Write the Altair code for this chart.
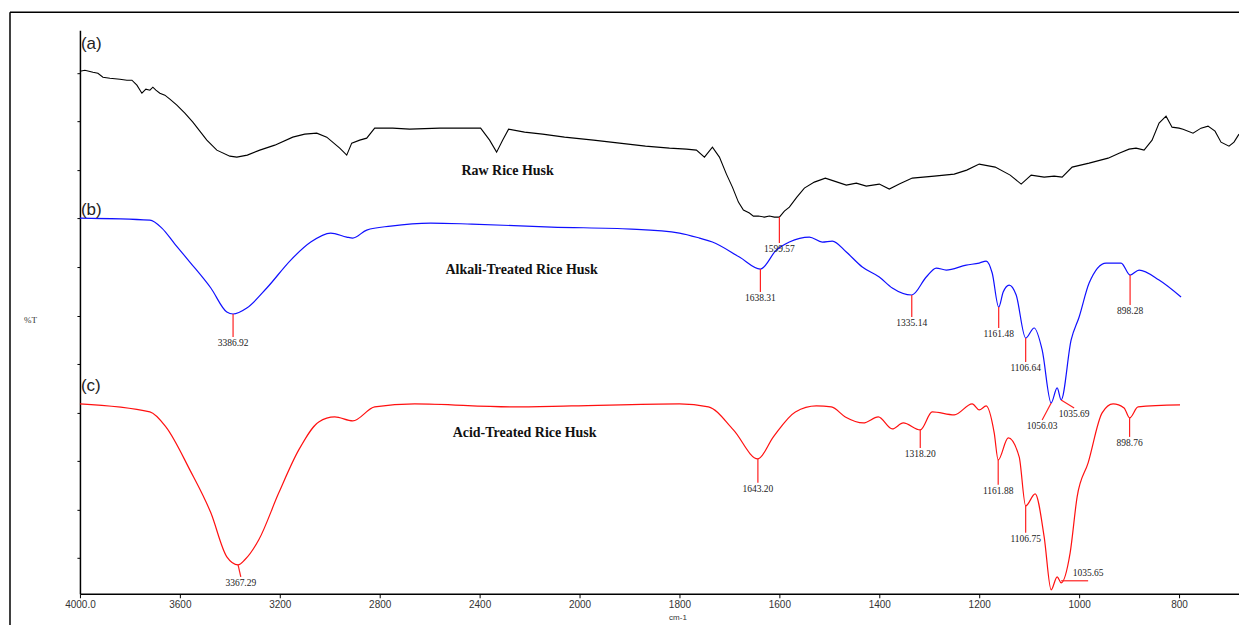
import altair as alt
import pandas as pd

# ---- (a) Raw rice husk: wavenumber (cm-1) and %T (arbitrary offset units)
raw_wn = [4000, 3980, 3948, 3928, 3908, 3880, 3840, 3812, 3792, 3772, 3752, 3736, 3720,
          3708, 3696, 3680, 3660, 3640, 3612, 3580, 3548, 3520, 3492, 3452, 3400, 3372,
          3330, 3280, 3220, 3148, 3100, 3052, 3012, 2960, 2932, 2912, 2880, 2852, 2820,
          2748, 2680, 2560, 2436, 2396, 2360, 2332, 2308, 2284, 2220, 2148, 2060, 1972,
          1920, 1868, 1820, 1786, 1766, 1750, 1734, 1720, 1706, 1694, 1682, 1672, 1660,
          1652, 1642, 1630, 1620, 1610, 1600, 1590, 1580, 1565, 1550, 1530, 1508, 1490,
          1466, 1446, 1426, 1400, 1380, 1360, 1334, 1290, 1250, 1225, 1200, 1168, 1138,
          1116, 1096, 1070, 1050, 1034, 1014, 980, 942, 920, 900, 886, 870, 854, 840,
          826, 814, 800, 792, 772, 756, 742, 728, 716, 700, 690, 680]
raw_t = [523, 524, 522, 521, 517, 516, 515, 514, 514, 509, 501, 505, 504,
         507, 504, 501, 499, 495, 489, 481, 472, 463, 454, 444, 438, 437,
         439, 444, 449, 457, 460, 461, 457, 446, 439, 451, 454, 456, 466,
         466, 465, 466, 466, 466, 454, 442, 454, 465, 462, 460, 457, 454,
         451, 448, 446, 445, 444, 437, 447, 437, 420, 407, 392, 384, 381,
         378, 378, 377, 378, 377, 377, 383, 387, 397, 406, 412, 416, 413,
         409, 411, 408, 410, 405, 410, 416, 418, 420, 424, 430, 427, 419,
         410, 419, 417, 418, 417, 427, 431, 436, 441, 445, 446, 444, 454, 471,
         478, 467, 466, 465, 461, 466, 468, 463, 452, 448, 452, 460]

# ---- (b) Alkali-treated rice husk
alk_wn = [4000, 3720, 3672, 3620, 3560, 3476, 3412, 3387, 3332, 3252, 3156, 3076, 2996,
          2932, 2908, 2852, 2756, 2596, 2432, 2112, 1896, 1800, 1760, 1734, 1680, 1638,
          1606, 1580, 1540, 1514, 1494, 1466, 1434, 1400, 1374, 1335, 1306, 1286, 1266,
          1226, 1200, 1186, 1174, 1161, 1152, 1140, 1126, 1107, 1090, 1074, 1056, 1044,
          1036, 1016, 1000, 980, 946, 916, 898, 880, 840, 796]
alk_t = [376, 374, 366, 350, 332, 306, 282, 280, 286, 306, 334, 352, 361,
         357, 356, 364, 368, 371, 370, 367, 365, 361, 356, 352, 337, 325,
         344, 352, 357, 352, 353, 342, 327, 317, 306, 299, 317, 326, 324,
         329, 331, 333, 321, 287, 302, 309, 299, 256, 266, 244, 191, 206,
         194, 254, 277, 311, 331, 331, 319, 324, 314, 297]

# ---- (c) Acid-treated rice husk
acid_wn = [4000, 3720, 3656, 3560, 3476, 3412, 3367, 3340, 3284, 3204, 3124, 3044, 2980,
           2908, 2820, 2660, 2272, 2032, 1800, 1742, 1692, 1643, 1612, 1568, 1526, 1496,
           1468, 1432, 1402, 1374, 1352, 1318, 1294, 1250, 1214, 1200, 1186, 1170, 1162,
           1142, 1120, 1107, 1088, 1070, 1056, 1044, 1036, 1018, 1004, 982, 954, 932,
           910, 899, 882, 798]
acid_t = [190, 182, 167, 124, 81, 37, 29, 34, 54, 101, 144, 172, 177,
          173, 187, 190, 187, 188, 190, 187, 164, 135, 157, 182, 188, 187,
          177, 171, 177, 165, 171, 164, 182, 179, 190, 184, 188, 161, 134,
          156, 137, 88, 100, 57, 4, 17, 11, 41, 97, 131, 181, 190,
          186, 176, 187, 189]

series_names = ["raw", "alkali", "acid"]
series_colors = ["#000000", "#1010ff", "#ff1010"]

# ---- peak annotations (leader line from curve to label)
pk_label = ["1599.57", "3386.92", "1638.31", "1335.14", "1161.48", "1106.64", "898.28",
            "1056.03", "1035.69", "3367.29", "1643.20", "1318.20", "1161.88", "1106.75",
            "898.76", "1035.65"]
pk_wn1 = [1600, 3387, 1638, 1335, 1161, 1107, 898, 1056, 1036, 3367, 1643, 1318, 1162,
          1107, 899, 1036]
pk_t1 = [377, 280, 325, 299, 287, 256, 319, 191, 194, 29, 135, 164, 134, 88, 176, 13]
pk_wn2 = [1600, 3387, 1638, 1335, 1161, 1107, 898, 1074, 1010, 3356, 1643, 1318, 1162,
          1107, 899, 982]
pk_t2 = [351, 257, 302, 277, 266, 232, 289, 174, 186, 17, 111, 146, 109, 61, 157, 13]
pk_side = ["below"] * 15 + ["above"]

# ---- curve captions
cap_text = ["(a)", "(b)", "(c)"]
cap_wn = [3996, 3996, 3996]
cap_t = [550, 384, 208]
name_text = ["Raw Rice Husk", "Alkali-Treated Rice Husk", "Acid-Treated Rice Husk"]
name_wn = [2288, 2232, 2220]
name_t = [423, 324, 161]

x_ticks = [4000, 3600, 3200, 2800, 2400, 2000, 1800, 1600, 1400, 1200, 1000, 800]
y_ticks = [521, 473, 424, 376, 327, 278, 230, 181, 133, 84, 36]

# ---- tables
rows = []
for name, wn, t in [("raw", raw_wn, raw_t), ("alkali", alk_wn, alk_t), ("acid", acid_wn, acid_t)]:
    for i, (w, v) in enumerate(zip(wn, t)):
        rows.append({"series": name, "wn": w, "t": v, "i": i})
curves = pd.DataFrame(rows)
peaks = pd.DataFrame({"label": pk_label, "wn1": pk_wn1, "t1": pk_t1,
                      "wn2": pk_wn2, "t2": pk_t2, "side": pk_side})
caps = pd.DataFrame({"text": cap_text, "wn": cap_wn, "t": cap_t})
names = pd.DataFrame({"text": name_text, "wn": name_wn, "t": name_t})
one = pd.DataFrame({"a": [0]})

W, H = 1160, 564
xscale = alt.Scale(domain=[4000, 2000, 680], range=[0, 500, W], nice=False, zero=False)
yscale = alt.Scale(domain=[0, H], nice=False, zero=False)

xaxis = alt.Axis(values=x_ticks, format="d",
                 labelExpr="datum.value == 4000 ? '4000.0' : datum.label",
                 title="cm-1", titleX=598, titleY=24, titleAlign="center",
                 titleBaseline="middle", titleFont="Liberation Sans", titleFontSize=8,
                 titleFontWeight="normal", titleColor="#333",
                 labelFont="Liberation Sans", labelFontSize=10, labelColor="#333",
                 labelPadding=2, tickSize=4, tickColor="#000", domainColor="#000",
                 domainWidth=1.3, grid=False, labelFlush=False)
yaxis = alt.Axis(values=y_ticks, labels=False, title="%T", titleAngle=0, titleX=-50,
                 titleY=290, titleAlign="center", titleBaseline="middle",
                 titleFont="Liberation Serif", titleFontSize=9, titleFontWeight="normal",
                 titleColor="#333", tickSize=3, tickColor="#000", domainColor="#000",
                 domainWidth=1.5, grid=False)

color_enc = alt.Color("series:N", scale=alt.Scale(domain=series_names, range=series_colors),
                      legend=None)

raw_line = alt.Chart(curves).transform_filter("datum.series == 'raw'").mark_line(
    strokeWidth=1.1
).encode(
    x=alt.X("wn:Q", scale=xscale, axis=xaxis),
    y=alt.Y("t:Q", scale=yscale, axis=yaxis),
    color=color_enc,
    order="i:Q",
)

smooth_lines = alt.Chart(curves).transform_filter("datum.series != 'raw'").mark_line(
    strokeWidth=1.2, interpolate="monotone"
).encode(
    x="wn:Q", y="t:Q",
    color=color_enc,
    detail="series:N",
    order="i:Q",
)

leaders = alt.Chart(peaks).mark_rule(color="#ff2020", strokeWidth=1.2).encode(
    x="wn1:Q", x2="wn2:Q", y="t1:Q", y2="t2:Q")

lab_below = alt.Chart(peaks).transform_filter("datum.side == 'below'").mark_text(
    font="Liberation Serif", fontSize=9.5, color="#222", baseline="top", dy=1
).encode(x="wn2:Q", y="t2:Q", text="label:N")

lab_above = alt.Chart(peaks).transform_filter("datum.side == 'above'").mark_text(
    font="Liberation Serif", fontSize=9.5, color="#222", baseline="bottom", dy=-3
).encode(x="wn2:Q", y="t2:Q", text="label:N")

cap_marks = alt.Chart(caps).mark_text(
    font="Liberation Sans", fontSize=17, color="#222", align="left", baseline="middle"
).encode(x="wn:Q", y="t:Q", text="text:N")

name_marks = alt.Chart(names).mark_text(
    font="Liberation Serif", fontSize=14, fontWeight="bold", color="#111",
    align="center", baseline="middle"
).encode(x="wn:Q", y="t:Q", text="text:N")

frame_left = alt.Chart(one).mark_rule(color="#000", strokeWidth=1.5).encode(
    x=alt.value(-70), y=alt.value(-18), y2=alt.value(620))
frame_top = alt.Chart(one).mark_rule(color="#000", strokeWidth=1.5).encode(
    x=alt.value(-70), x2=alt.value(W + 20), y=alt.value(-18))

chart = alt.layer(
    raw_line, smooth_lines, leaders, lab_below, lab_above,
    cap_marks, name_marks, frame_left, frame_top
).properties(
    width=W, height=H,
    background="white",
    autosize=alt.AutoSizeParams(type="none"),
    padding={"left": 72, "top": 22, "right": 0, "bottom": 31},
).configure_view(stroke="transparent", strokeWidth=0).configure_axis(grid=False)

chart.save("out.html", embed_options={"renderer": "svg", "actions": False})
